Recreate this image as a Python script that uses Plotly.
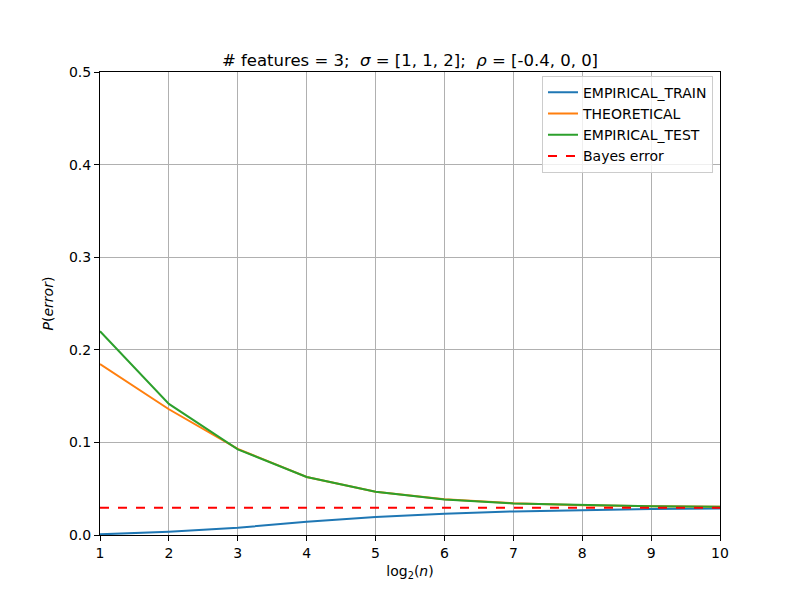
import plotly.graph_objects as go

log2_n = [1, 2, 3, 4, 5, 6, 7, 8, 9, 10]
empirical_train = [0.0007, 0.0035, 0.0078, 0.0143, 0.0194, 0.0229, 0.0255, 0.0269, 0.0280, 0.0287]
theoretical = [0.1846, 0.1358, 0.0930, 0.0627, 0.0466, 0.0386, 0.0343, 0.0322, 0.0310, 0.0305]
empirical_test = [0.2200, 0.1416, 0.0925, 0.0627, 0.0466, 0.0384, 0.0341, 0.0323, 0.0310, 0.0306]
bayes_error = 0.0294
x_ticks = [1, 2, 3, 4, 5, 6, 7, 8, 9, 10]
y_ticks = [0.0, 0.1, 0.2, 0.3, 0.4, 0.5]
y_ticktext = ["0.0", "0.1", "0.2", "0.3", "0.4", "0.5"]

font = "DejaVu Sans"
fig = go.Figure()
fig.add_trace(go.Scatter(x=log2_n, y=empirical_train, mode="lines", name="EMPIRICAL_TRAIN",
                         line=dict(color="#1f77b4", width=2)))
fig.add_trace(go.Scatter(x=log2_n, y=theoretical, mode="lines", name="THEORETICAL",
                         line=dict(color="#ff7f0e", width=2)))
fig.add_trace(go.Scatter(x=log2_n, y=empirical_test, mode="lines", name="EMPIRICAL_TEST",
                         line=dict(color="#2ca02c", width=2)))
fig.add_trace(go.Scatter(x=[log2_n[0], log2_n[-1]], y=[bayes_error, bayes_error], mode="lines",
                         name="Bayes error", line=dict(color="red", width=2, dash="dash")))

axis_common = dict(showline=True, linecolor="black", linewidth=1, mirror=True,
                   ticks="outside", ticklen=5, tickcolor="black",
                   showgrid=True, gridcolor="#b0b0b0", gridwidth=1, zeroline=False,
                   tickfont=dict(family=font, size=14, color="black"))

fig.update_layout(
    width=800, height=600,
    margin=dict(l=100, r=80, t=72, b=65),
    paper_bgcolor="white", plot_bgcolor="white",
    font=dict(family=font, color="black"),
    title=dict(text="# features = 3;  <i>σ</i> = [1, 1, 2];  <i>ρ</i> = [-0.4, 0, 0]",
               x=0.5125, xanchor="center", yref="paper", y=1.0, yanchor="bottom",
               pad=dict(b=6),
               font=dict(family=font, size=16.5, color="black")),
    xaxis=dict(range=[1, 10], tickvals=x_ticks,
               title=dict(text="log<sub>2</sub>(<i>n</i>)", font=dict(family=font, size=14), standoff=6),
               **axis_common),
    yaxis=dict(range=[0, 0.5], tickvals=y_ticks, ticktext=y_ticktext,
               title=dict(text="<i>P</i>(<i>error</i>)", font=dict(family=font, size=14), standoff=12),
               **axis_common),
    legend=dict(x=0.9887, y=0.992, xanchor="right", yanchor="top",
                bgcolor="rgba(255,255,255,0.8)", bordercolor="#cccccc", borderwidth=1,
                font=dict(family=font, size=14, color="black"), tracegroupgap=2),
    showlegend=True,
)
fig.write_html("out.html")
